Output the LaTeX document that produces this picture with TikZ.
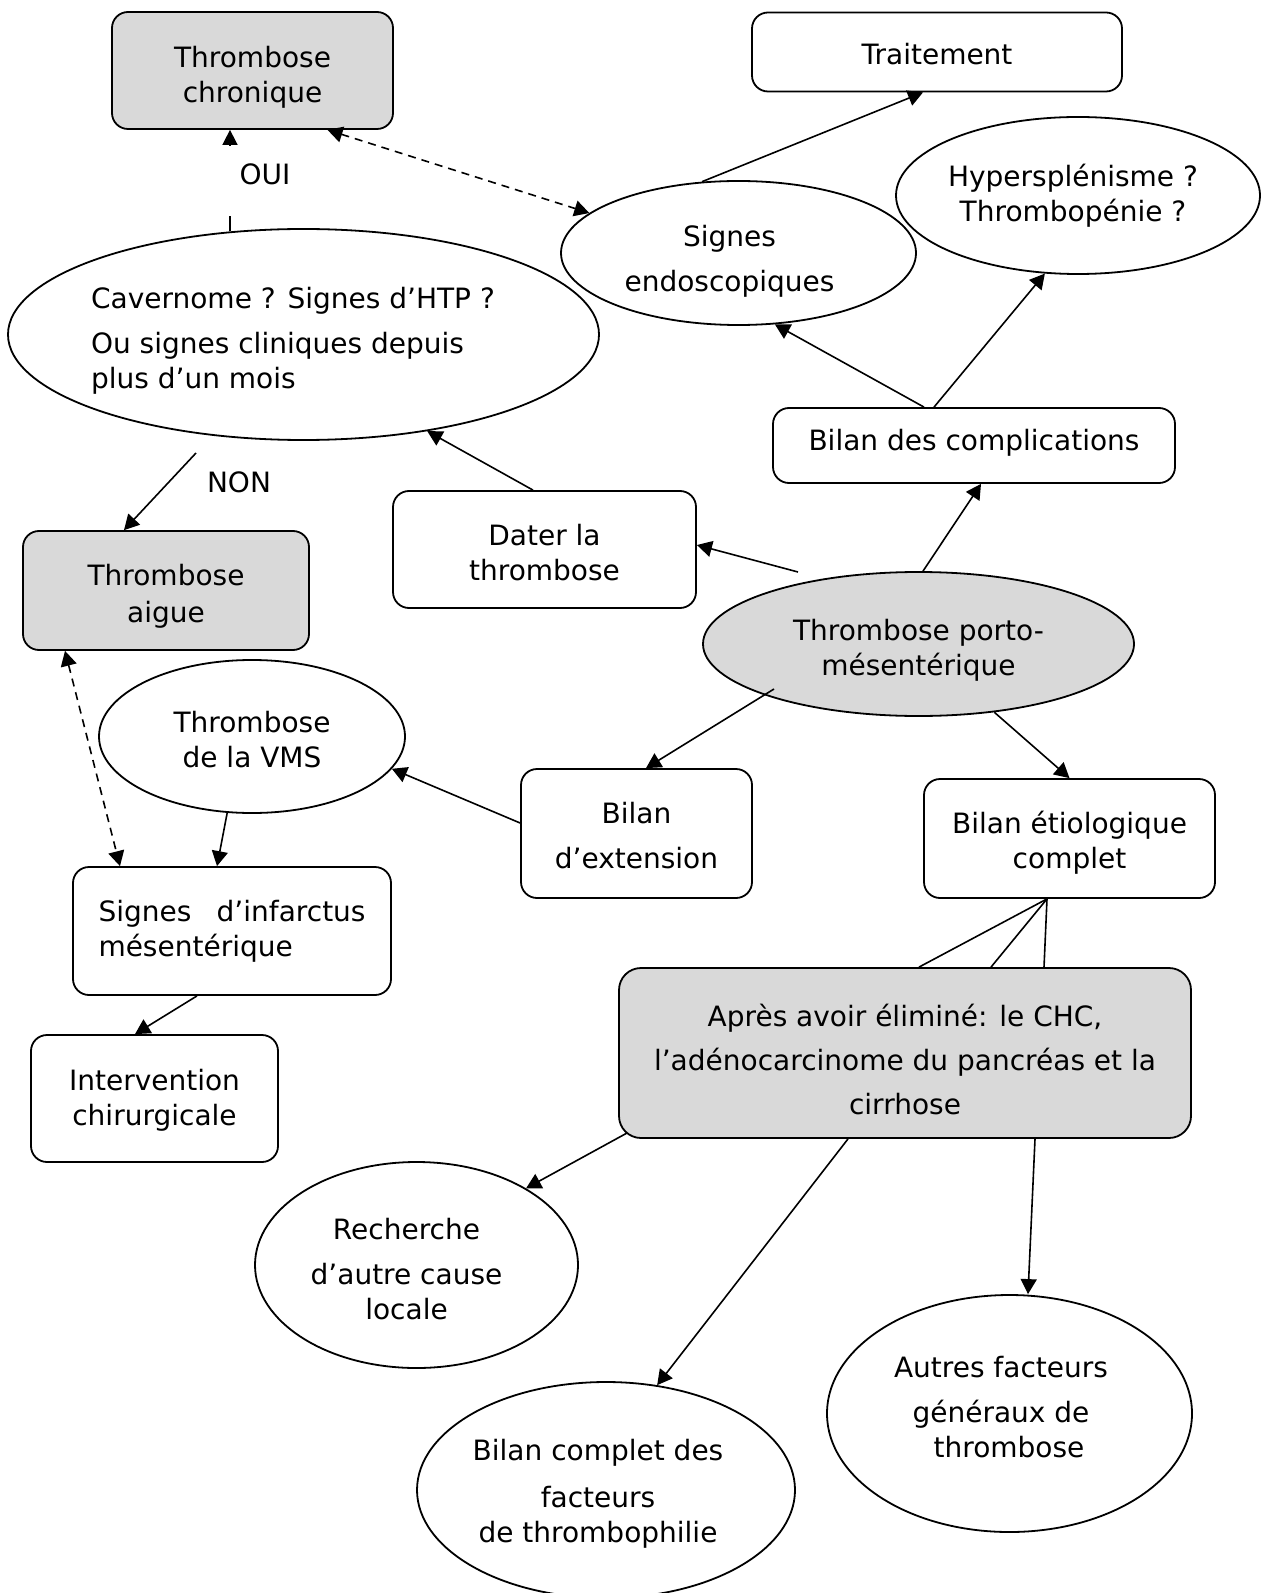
\documentclass[tikz,border=0pt]{standalone}
\usepackage{fontspec}
\setmainfont{DejaVu Sans}
\usetikzlibrary{shapes.geometric,arrows.meta}
\definecolor{boxgray}{HTML}{D9D9D9}
\begin{document}
\begin{tikzpicture}[x=0.5pt,y=-0.5pt,
  every node/.style={font=\fontsize{14}{17.5}\selectfont, align=center},
  rbox/.style={draw, line width=0.9pt, rounded corners=8pt, inner sep=2pt},
  gbox/.style={rbox, fill=boxgray},
  ell/.style={draw, ellipse, line width=0.9pt, inner sep=0pt},
  tip/.style={-{Triangle[length=7.5pt,width=8pt]}},
  arr/.style={line width=0.8pt, tip},
  darr/.style={line width=0.8pt, dash pattern=on 4pt off 3pt, {Triangle[length=7.5pt,width=8pt]}-{Triangle[length=7.5pt,width=8pt]}},
  plainline/.style={line width=0.8pt}]
\useasboundingbox (0,0) rectangle (1260,1593);

% shapes
\node[gbox, minimum width=140.5pt, minimum height=58.5pt] (chron) at (252.5,70.5) {};
\node[rbox, minimum width=185pt, minimum height=39.5pt] (trait) at (937,52) {};
\node[ell, minimum width=182pt, minimum height=78.5pt] (hyp) at (1078,195.5) {};
\node[ell, minimum width=177.5pt, minimum height=72pt] (sig) at (738.5,253) {};
\node[ell, minimum width=295.5pt, minimum height=105.5pt] (cav) at (303.5,334.5) {};
\node[rbox, minimum width=151.5pt, minimum height=58.5pt] (dater) at (544.5,549.5) {};
\node[rbox, minimum width=201pt, minimum height=37.5pt] (comp) at (974,445.5) {};
\node[ell, fill=boxgray, minimum width=215.5pt, minimum height=72pt] (porto) at (918.5,644) {};
\node[gbox, minimum width=143pt, minimum height=59.5pt] (aigue) at (166,590.5) {};
\node[ell, minimum width=153pt, minimum height=76.5pt] (vms) at (252,736.5) {};
\node[rbox, minimum width=115.5pt, minimum height=64.5pt] (ext) at (636.5,833.5) {};
\node[rbox, minimum width=159pt, minimum height=64pt] (inf) at (232,931) {};
\node[rbox, minimum width=123.5pt, minimum height=63.5pt] (interv) at (154.5,1098.5) {};
\node[rbox, minimum width=145.5pt, minimum height=59.5pt] (etio) at (1069.5,838.5) {};
\node[gbox, rounded corners=11pt, minimum width=286pt, minimum height=85pt] (apres) at (905,1053) {};
\node[ell, minimum width=161.5pt, minimum height=103pt] (rech) at (416.5,1265) {};
\node[ell, minimum width=189pt, minimum height=108pt] (bcf) at (606,1490) {};
\node[ell, minimum width=182.5pt, minimum height=118.5pt] (autres) at (1009.5,1413.5) {};

% texts
\node (chront) at (252.5,77.5) {Thrombose\\chronique};
\node (traitt) at (937,54) {Traitement};
\node (hypt) at (1073,195.5) {Hypersplénisme ?\\Thrombopénie ?};
\node (sigt) at (729.5,261) {Signes\\[5pt]endoscopiques};
\node[anchor=west, align=left] (cavt) at (84,341) {Cavernome ? Signes d’HTP ?\\[5pt]Ou signes cliniques depuis\\plus d’un mois};
\node (oui) at (265,174) {OUI};
\node (non) at (239,482) {NON};
\node (datert) at (544.5,552.5) {Dater la\\thrombose};
\node (compt) at (974,442.5) {Bilan des complications};
\node (portot) at (918.5,650) {Thrombose porto-\\mésentérique};
\node (aiguet) at (166,596.5) {Thrombose\\[1pt]aigue};
\node (vmst) at (252,739.5) {Thrombose\\de la VMS};
\node (extt) at (636.5,835.5) {Bilan\\[5pt]d’extension};
\node[text width=133.5pt, align=left] (inft) at (232,931) {\makebox[133.5pt]{Signes\hfill d’infarctus}\\mésentérique};
\node (intervt) at (154.5,1100) {Intervention\\chirurgicale};
\node (etiot) at (1069.5,842.5) {Bilan étiologique\\complet};
\node (aprest) at (905,1059) {Après avoir éliminé: le CHC,\\[4.5pt]l’adénocarcinome du pancréas et la\\[4.5pt]cirrhose};
\node (recht) at (406.5,1269) {Recherche\\[5pt]d’autre cause\\locale};
\node (bcft) at (598,1494) {Bilan complet des\\[6pt]facteurs\\de thrombophilie};
\node (autrest) at (1001,1407.5) {Autres facteurs\\[5pt]généraux de\\\hspace*{8pt}thrombose};

% connectors
\coordinate (ouia) at (230,231);
\coordinate (ouib) at (230,216);
\coordinate (ouic) at (230,146);
\draw[plainline] (ouia) -- (ouib);
\draw[arr, -{Triangle[length=7.5pt,width=7.5pt]}] (ouic) -- (ouic |- chron.south);
\draw[darr] ([xshift=37.5pt]chron.south) -- (sig.165);
\draw[arr] (sig.117) -- ([xshift=-7pt]trait.south);
\draw[arr] ([xshift=-25pt]comp.north) -- (sig.-63);
\draw[arr] ([xshift=-20pt]comp.north) -- (hyp.-113);
\draw[arr] ([xshift=-5.75pt]dater.north) -- (cav.-38);
\coordinate (nona) at (196,453);
\draw[arr] (nona) -- ([xshift=-21pt]aigue.north);
\coordinate (pd) at (798,572);
\draw[arr] (pd) -- ([yshift=2.25pt]dater.east);
\draw[arr] ([xshift=2.25pt]porto.north) -- ([xshift=3.5pt]comp.south);
\coordinate (pe) at (774,689);
\draw[arr] (pe) -- ([xshift=4.75pt]ext.north);
\draw[arr] (porto.-42) -- (etio.north);
\draw[arr] ([yshift=5.25pt]ext.west) -- (vms.-13);
\draw[arr] (vms.-108) -- ([xshift=-7.5pt]inf.north);
\draw[darr] ([xshift=-50.5pt]aigue.south) -- ([xshift=-56pt]inf.north);
\draw[arr] ([xshift=-17.5pt]inf.south) -- ([xshift=-9.75pt]interv.north);
\draw[plainline] ([xshift=-11.25pt]etio.south) -- ([xshift=7pt]apres.north);
\draw[plainline] ([xshift=-11.25pt]etio.south) -- ([xshift=43pt]apres.north);
\draw[plainline] ([xshift=-11.25pt]etio.south) -- ([xshift=69.5pt]apres.north);
\coordinate (pr) at (627,1133);
\draw[arr] (pr) -- (rech.35);
\draw[arr] ([xshift=-28.5pt]apres.south) -- (bcf.64);
\draw[arr] ([xshift=65pt]apres.south) -- ([xshift=9.25pt]autres.north);
\end{tikzpicture}
\end{document}
